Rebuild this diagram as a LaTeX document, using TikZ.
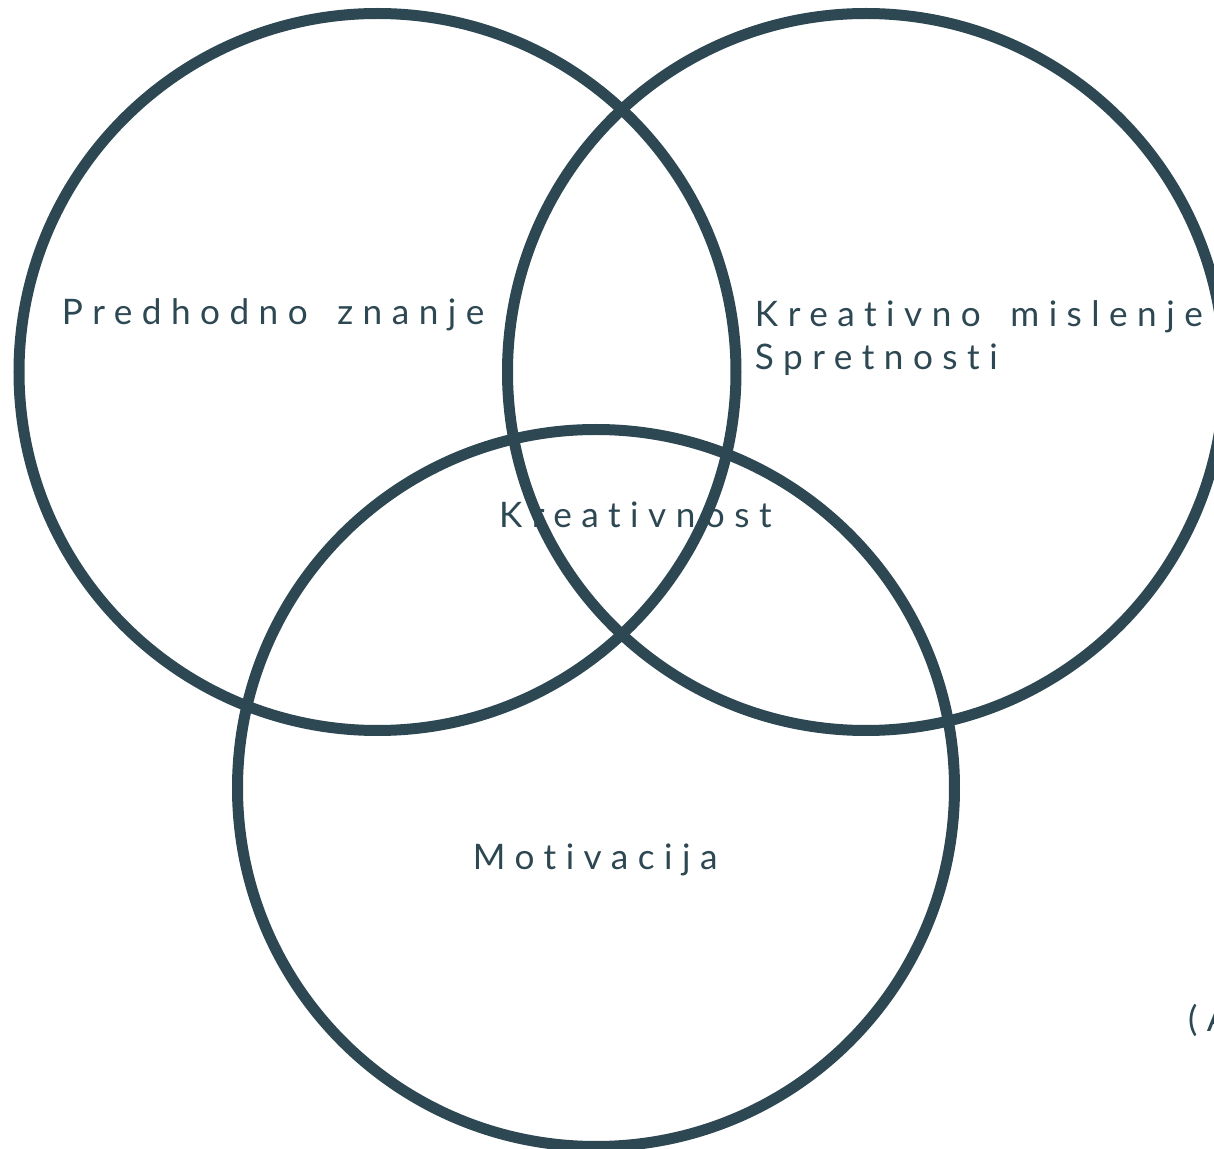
\documentclass[tikz,border=0pt]{standalone}
\usepackage{fontspec}
\setmainfont{Lato}[LetterSpace=27,WordSpace=1.6,Ligatures=NoCommon]
\usetikzlibrary{positioning}
\definecolor{slate}{HTML}{2D4852}

\begin{document}
\begin{tikzpicture}[every node/.style={inner sep=0pt,outer sep=0pt},
                    venn/.style=  {circle,draw=slate,line width=0.11cm,minimum size=7.17cm},
                    label text/.style={text=slate,font=\fontsize{10}{12}\selectfont,anchor=base west}]
      \useasboundingbox (0,0) rectangle (12.14,-11.49);
      % three rings
      \node[venn] (znanje)     at (3.775,-3.72) {};
      \node[venn] (mislenje)   at (8.66,-3.72) {};
      \node[venn] (motivacija) at (5.96,-7.88) {};
      % texts
      \node[label text] (tznanje)  at (0.62,-3.25) {Predhodno znanje};
      \node[label text] (tmisel)   at (7.55,-3.27) {Kreativno mislenje};
      \node[label text] (tspret)   at (7.55,-3.70) {Spretnosti};
      \node[label text] (tkreat)   at (4.99,-5.28) {Kreativnost};
      \node[label text] (tmotiv)   at (4.73,-8.70) {Motivacija};
      \node[label text] (tvir)     at (11.88,-10.32) {(A};
\end{tikzpicture}
\end{document}
